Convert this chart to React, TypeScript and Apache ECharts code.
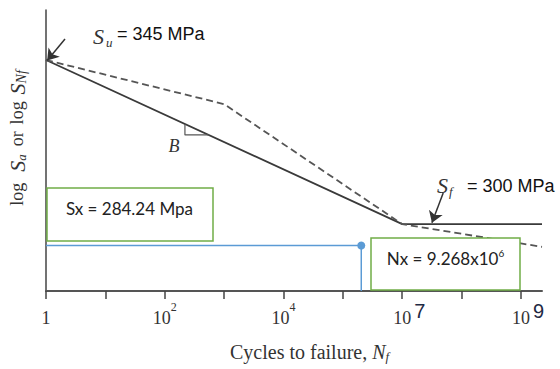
import React, { useEffect, useRef } from "react";
import * as echarts from "echarts";

// x: position along the log-cycle axis as drawn (one unit per tick / decade)
// y: relative log-stress height (0 = x-axis, 100 = top of y-axis)
const solidX = [0, 6, 8.354];
const solidY = [82.2, 23.8, 23.8];
const dashedX = [0, 3, 6, 8.354];
const dashedY = [82.2, 66.5, 23.8, 15.7];
const sxLevel = 16.2; // Sx = 284.24 Mpa
const nxPos = 5.31; // Nx = 9.268x10^6
const xTickValues = [0, 1, 2, 3, 4, 5, 6, 7, 8];
const xLabelValues = [0, 2, 4, 6, 8];
const xLabelBase = ["1", "10", "10", "10", "10"];
const xLabelExp = ["", "2", "4", "7", "9"];
const slopeMarkX = [2.34, 2.74];
const suArrow = [[0.32, 89.7], [0.02, 82.0]];
const sfArrow = [[6.69, 34.9], [6.5, 24.3]];

const SERIF = "Liberation Serif";
const SANS = "Liberation Sans";

function interp(xs: number[], ys: number[], x: number) {
  for (let i = 0; i < xs.length - 1; i++) {
    if (x >= xs[i] && x <= xs[i + 1]) {
      const t = (x - xs[i]) / (xs[i + 1] - xs[i]);
      return ys[i] + t * (ys[i + 1] - ys[i]);
    }
  }
  return ys[ys.length - 1];
}

export default function App() {
  const ref = useRef<HTMLDivElement>(null);
  useEffect(() => {
    if (!ref.current) return;
    const chart = echarts.init(ref.current, null, { renderer: "svg" });
    const slopeTop = interp(solidX, solidY, slopeMarkX[0]);
    const slopeBot = interp(solidX, solidY, slopeMarkX[1]);
    const option: any = {
      animation: false,
      grid: { left: 46, right: 18, top: 10, bottom: 78 },
      xAxis: {
        type: "value",
        min: 0,
        max: 8.354,
        interval: 1,
        axisLine: { lineStyle: { color: "#555", width: 2 } },
        axisTick: {
          show: true,
          customValues: xTickValues,
          length: 8,
          lineStyle: { color: "#444", width: 1.5 },
        },
        axisLabel: {
          customValues: xLabelValues,
          margin: 10,
          lineHeight: 34,
          fontFamily: SERIF,
          fontSize: 18,
          color: "#333",
          formatter: (v: number) => {
            const i = xLabelValues.indexOf(Math.round(v));
            if (i < 0) return "";
            const exp = xLabelExp[i];
            if (!exp) return `{n|${xLabelBase[i]}}`;
            if (i >= 3) return `{p| }{n|${xLabelBase[i]}}{big|${exp}}`;
            return `{n|${xLabelBase[i]}}{sup|${exp}}`;
          },
          rich: {
            n: { fontFamily: SERIF, fontSize: 18, color: "#333", lineHeight: 34 },
            sup: { fontFamily: SERIF, fontSize: 12, color: "#333", lineHeight: 28, verticalAlign: "top" },
            big: { fontFamily: SANS, fontSize: 20, color: "#1f2a44", lineHeight: 8, verticalAlign: "top", padding: [0, 0, 0, 3] },
            p: { width: 14, lineHeight: 34 },
          },
        },
        splitLine: { show: false },
      },
      yAxis: {
        type: "value",
        min: 0,
        max: 100,
        axisLine: { show: true, lineStyle: { color: "#444", width: 1.5 } },
        axisTick: { show: false },
        axisLabel: { show: false },
        splitLine: { show: false },
      },
      series: [
        {
          type: "line",
          data: solidX.map((x, i) => [x, solidY[i]]),
          symbol: "none",
          lineStyle: { color: "#3a3a3a", width: 1.8 },
          z: 3,
        },
        {
          type: "line",
          data: dashedX.map((x, i) => [x, dashedY[i]]),
          symbol: "none",
          lineStyle: { color: "#555", width: 1.8, type: [7, 4] },
        },
        {
          type: "line",
          data: [
            [slopeMarkX[0], slopeTop],
            [slopeMarkX[0], slopeBot],
            [slopeMarkX[1], slopeBot],
          ],
          symbol: "none",
          lineStyle: { color: "#555", width: 1.2 },
        },
        {
          type: "line",
          data: [
            [0, sxLevel],
            [nxPos, sxLevel],
            [nxPos, 0],
          ],
          symbol: "none",
          lineStyle: { color: "#5B9BD5", width: 1.5 },
        },
        {
          type: "scatter",
          data: [[nxPos, sxLevel]],
          symbolSize: 8,
          itemStyle: { color: "#5B9BD5", opacity: 1 },
        },
        {
          type: "lines",
          coordinateSystem: "cartesian2d",
          data: [{ coords: suArrow }, { coords: sfArrow }],
          symbol: ["none", "arrow"],
          symbolSize: 11,
          lineStyle: { color: "#333", width: 1.5, opacity: 1 },
          z: 4,
        },
      ],
      graphic: [
        {
          type: "rect",
          z: 10,
          shape: { x: 47, y: 188, width: 166, height: 53 },
          style: { fill: "#fff", stroke: "#70AD47", lineWidth: 1.5 },
        },
        {
          type: "text",
          z: 11,
          x: 129.5,
          y: 208,
          style: { text: "Sx = 284.24 Mpa", fontFamily: "Lato", fontSize: 17, fill: "#222", align: "center", verticalAlign: "middle" },
        },
        {
          type: "rect",
          z: 10,
          shape: { x: 371, y: 238, width: 149, height: 52 },
          style: { fill: "#fff", stroke: "#70AD47", lineWidth: 1.5 },
        },
        {
          type: "text",
          z: 11,
          x: 445.5,
          y: 258,
          style: {
            text: "{t|Nx = 9.268x10}{s|6}",
            align: "center",
            verticalAlign: "middle",
            rich: {
              t: { fontFamily: "Lato", fontSize: 17, fill: "#222", color: "#222", lineHeight: 20 },
              s: { fontFamily: "Lato", fontSize: 10, fill: "#222", color: "#222", lineHeight: 10, verticalAlign: "top" },
            },
          },
        },
        // S_u label
        { type: "text", z: 11, x: 93, y: 36, style: { text: "S", fontFamily: SERIF, fontStyle: "italic", fontSize: 22, fill: "#333", align: "left", verticalAlign: "middle" } },
        { type: "text", z: 11, x: 106, y: 42, style: { text: "u", fontFamily: SERIF, fontStyle: "italic", fontSize: 13, fill: "#333", align: "left", verticalAlign: "middle" } },
        { type: "text", z: 11, x: 117, y: 33.5, style: { text: "= 345 MPa", fontFamily: SANS, fontSize: 18, fill: "#111", align: "left", verticalAlign: "middle" } },
        // S_f label
        { type: "text", z: 11, x: 437, y: 185, style: { text: "S", fontFamily: SERIF, fontStyle: "italic", fontSize: 22, fill: "#333", align: "left", verticalAlign: "middle" } },
        { type: "text", z: 11, x: 449, y: 191, style: { text: "f", fontFamily: SERIF, fontStyle: "italic", fontSize: 13, fill: "#333", align: "left", verticalAlign: "middle" } },
        { type: "text", z: 11, x: 467, y: 186, style: { text: "= 300 MPa", fontFamily: SANS, fontSize: 18, fill: "#111", align: "left", verticalAlign: "middle" } },
        // slope label
        { type: "text", z: 11, x: 174, y: 146, style: { text: "B", fontFamily: SERIF, fontStyle: "italic", fontSize: 18, fill: "#333", align: "center", verticalAlign: "middle" } },
        // x axis title
        {
          type: "text",
          z: 11,
          x: 230,
          y: 352,
          style: {
            text: "{t|Cycles to failure, }{N|N}{f|f}",
            align: "left",
            verticalAlign: "middle",
            rich: {
              t: { fontFamily: SERIF, fontSize: 20, fill: "#333", color: "#333", lineHeight: 22 },
              N: { fontFamily: SERIF, fontStyle: "italic", fontSize: 20, fill: "#333", color: "#333", lineHeight: 22 },
              f: { fontFamily: SERIF, fontStyle: "italic", fontSize: 13, fill: "#333", color: "#333", lineHeight: 8, verticalAlign: "bottom" },
            },
          },
        },
        // y axis title
        {
          type: "text",
          z: 11,
          x: 17,
          y: 138,
          rotation: Math.PI / 2,
          style: {
            text: "{l1|log}{S|S}{a|a}{or|or}{l2|log}{S|S}{nf|Nf}",
            align: "center",
            verticalAlign: "middle",
            rich: {
              l1: { fontFamily: SERIF, fontSize: 18, fill: "#333", color: "#333", lineHeight: 22, padding: [0, 11, 0, 0] },
              S: { fontFamily: SERIF, fontStyle: "italic", fontSize: 22, fill: "#333", color: "#333", lineHeight: 22 },
              a: { fontFamily: SERIF, fontStyle: "italic", fontSize: 13, fill: "#333", color: "#333", lineHeight: 8, verticalAlign: "bottom", padding: [0, 8, 0, 0] },
              or: { fontFamily: SERIF, fontSize: 18, fill: "#333", color: "#333", lineHeight: 22, padding: [0, 7, 0, 0] },
              l2: { fontFamily: SERIF, fontSize: 18, fill: "#333", color: "#333", lineHeight: 22, padding: [0, 7, 0, 0] },
              nf: { fontFamily: SERIF, fontStyle: "italic", fontSize: 14, fill: "#333", color: "#333", lineHeight: 8, verticalAlign: "bottom" },
            },
          },
        },
      ],
    };
    chart.setOption(option);
    return () => chart.dispose();
  }, []);
  return (
    <div
      ref={ref}
      style={{ position: "absolute", left: 0, top: 0, width: 560, height: 369, background: "#fff" }}
    />
  );
}
